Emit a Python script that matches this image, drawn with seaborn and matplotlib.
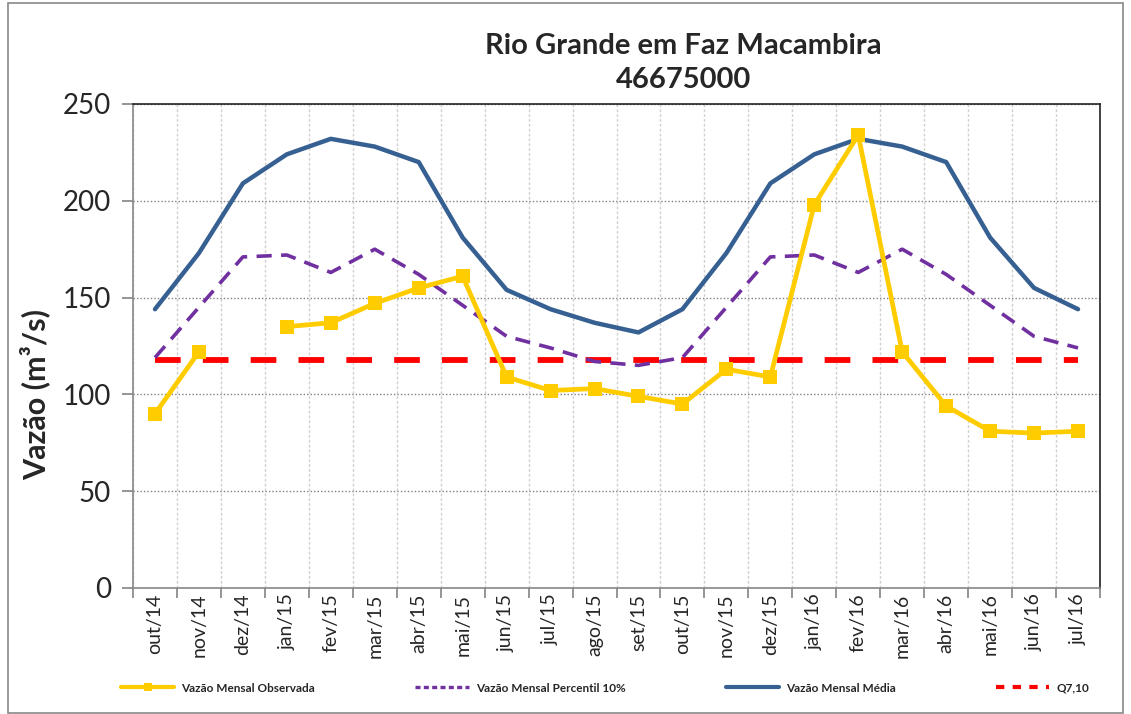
import matplotlib
matplotlib.use("Agg")
import matplotlib.pyplot as plt
import numpy as np
import pandas as pd
import seaborn as sns
from matplotlib.patches import Rectangle
from matplotlib.ticker import FixedLocator, NullFormatter

months = ["out/14", "nov/14", "dez/14", "jan/15", "fev/15", "mar/15", "abr/15", "mai/15",
          "jun/15", "jul/15", "ago/15", "set/15", "out/15", "nov/15", "dez/15", "jan/16",
          "fev/16", "mar/16", "abr/16", "mai/16", "jun/16", "jul/16"]
observada = [90, 122, np.nan, 135, 137, 147, 155, 161, 109, 102, 103, 99, 95, 113, 109,
             198, 234, 122, 94, 81, 80, 81]
percentil10 = [119, 145, 171, 172, 163, 175, 162, 146, 130, 124, 117, 115, 119, 145, 171,
               172, 163, 175, 162, 146, 130, 124]
media = [144, 173, 209, 224, 232, 228, 220, 181, 154, 144, 137, 132, 144, 173, 209, 224,
         232, 228, 220, 181, 155, 144]
q710 = [118] * len(months)

sns.set_theme(style="white")
plt.rcParams["font.family"] = ["Lato", "DejaVu Sans"]

x = np.arange(len(months))
df = pd.DataFrame({"x": x, "obs": observada, "p10": percentil10, "med": media, "q": q710})
df["seg"] = df["obs"].isna().cumsum()
obs_df = df.dropna(subset=["obs"])

fig = plt.figure(figsize=(11.31, 7.14), dpi=100)
ax = fig.add_axes([133 / 1131, 1 - 588 / 714, (1100 - 133) / 1131, (588 - 104) / 714])

sns.lineplot(data=obs_df, x="x", y="obs", units="seg", estimator=None, color="#FFCC00",
             lw=3.4, marker="s", markersize=9.5, markeredgewidth=0, ax=ax, zorder=4)
sns.lineplot(data=df, x="x", y="p10", color="#7030A0", lw=2.6, ax=ax, zorder=3,
             linestyle=(0, (4.2, 2.6)))
sns.lineplot(data=df, x="x", y="med", color="#376092", lw=3.2, ax=ax, zorder=3)
sns.lineplot(data=df, x="x", y="q", color="#FF0000", lw=4.2, ax=ax, zorder=2,
             linestyle=(0, (4.4, 3.8)))

ax.set_xlim(-0.5, len(months) - 0.5)
ax.set_ylim(0, 250)
ax.set_yticks([0, 50, 100, 150, 200, 250])
ax.tick_params(axis="y", labelsize=20, length=8, color="#888888", direction="out", left=True, pad=8)

ax.xaxis.set_major_locator(FixedLocator(np.arange(-0.5, len(months), 1.0)))
ax.xaxis.set_major_formatter(NullFormatter())
ax.xaxis.set_minor_locator(FixedLocator(x))
ax.set_xticklabels(months, minor=True, rotation=90, fontsize=14)
ax.tick_params(axis="x", which="major", length=7, color="#888888", direction="out", bottom=True)
ax.tick_params(axis="x", which="minor", length=0, pad=4)

ax.grid(axis="y", linestyle=(0, (1, 1.5)), color="#808080", lw=1)
ax.grid(axis="x", which="major", linestyle=(0, (2, 1.5)), color="#D0D0D0", lw=1)
ax.set_axisbelow(True)

for side in ["left", "bottom"]:
    ax.spines[side].set_color("#888888")
    ax.spines[side].set_linewidth(1.2)
for side in ["top", "right"]:
    ax.spines[side].set_color("#222222")
    ax.spines[side].set_linewidth(1.2)

ax.set_xlabel("")
ax.set_ylabel("Vazão (m³/s)", fontsize=22, fontweight="bold")
ax.yaxis.set_label_coords(-0.086, 0.40)

fig.text(683 / 1131, 1 - 63 / 714, "Rio Grande em Faz Macambira\n46675000", ha="center",
         va="center", fontsize=21, fontweight="bold", linespacing=1.35)

handles = [
    plt.Line2D([], [], color="#FFCC00", lw=3, marker="s", markersize=6, markeredgewidth=0),
    plt.Line2D([], [], color="#7030A0", lw=2.4, linestyle=(0, (1.5, 1))),
    plt.Line2D([], [], color="#376092", lw=3),
    plt.Line2D([], [], color="#FF0000", lw=3, linestyle=(0, (2, 2))),
]
labels = ["Vazão Mensal Observada", "Vazão Mensal Percentil 10%", "Vazão Mensal Média", "Q7,10"]
leg = fig.legend(handles, labels, loc="center", bbox_to_anchor=(0.535, 1 - 688 / 714), ncol=4,
                 frameon=False, fontsize=8.5, handlelength=4.5, columnspacing=8.5, handletextpad=0.6)
for t in leg.get_texts():
    t.set_fontweight("bold")

fig.patches.append(Rectangle((8 / 1131, 0.002), 1 - 16 / 1131, 0.994, transform=fig.transFigure,
                             fill=False, edgecolor="#888888", lw=1.2))

fig.savefig("out.png", dpi=100)
